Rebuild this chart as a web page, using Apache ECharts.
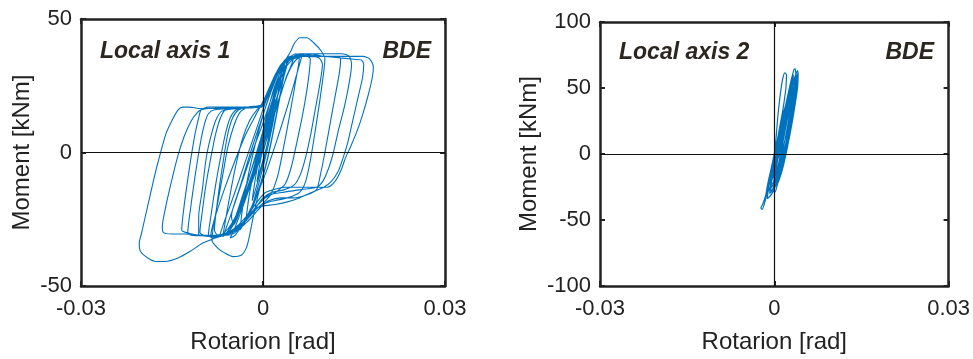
<!DOCTYPE html>
<html>
<head>
<meta charset="utf-8">
<script src="https://cdn.jsdelivr.net/npm/echarts@6/dist/echarts.min.js"></script>
<style>
  html, body { margin: 0; padding: 0; background: #fff; }
  #main { width: 973px; height: 359px; }
</style>
</head>
<body>
<div id="main"></div>
<script>
var dom = document.getElementById('main');
var chart = echarts.init(dom);

// traced hysteresis path, local axis 1: [rotation in mrad, moment in kNm]
var axis1Path = [
  [0,0],[0.6,5],[1.2,10],[0.7,3],[-0.4,-6],[-1.0,-11],[-0.5,-4],[0.5,7],[1.4,15],[2.0,20],[1.4,11],[0.2,-2],
  [-1.0,-12],[-1.8,-18],[-1.2,-9],[-0.2,3],[1.0,14],[2.2,23],[2.8,28],[2.2,18],[1.0,4],[-0.4,-9],[-1.8,-20],
  [-2.8,-25],[-2.2,-15],[-1.0,-2],[0.4,12],[1.8,24],[3.0,31],[3.6,34],[3.0,24],[1.6,7],[0.2,-7],[-1.4,-18],
  [-3.0,-26],[-3.8,-29],[-3.2,-18],[-2.0,-4],[-0.6,9],[1.0,21],[2.6,30],[3.8,34],
  [4.6,36],[5.4,37],[6.0,36],[5.4,27],[4.4,14],[3.4,2],[2.4,-9],[1.2,-16],[0,-19],[-1.0,-21],[-2.2,-24],
  [-3.4,-27],[-4.6,-30],[-5.8,-31],[-6.6,-31],[-6.0,-23],[-5.2,-13],[-4.4,-4],[-3.4,5],[-2.2,12],[-1.0,16],
  [0,18],[1.0,24],[2.0,29],[3.0,33],[4.2,35],
  [3.0,26],[1.4,14],[-0.4,0],[-2.4,-13],[-4.4,-24],[-6.0,-30],[-7.2,-31.5],[-6.4,-26],[-4.8,-16],[-3.0,-4],
  [-1.2,8],[0.6,20],[2.4,30],[3.8,35],
  [4.6,38],[5.2,41],[6.1,43],[7.2,43],[8.4,41],[9.6,38],[10.2,35],[10.0,30],[9.4,20],[8.6,8],[7.8,-3],
  [7.0,-11],[6.0,-15],[4.0,-17],[2.0,-18],[0.4,-19],[-1.0,-22],[-2.6,-26],[-4.4,-29],[-6.4,-31],[-8.2,-32],
  [-9.0,-31],[-8.6,-24],[-7.8,-12],[-7.0,-2],[-6.2,7],[-5.4,13],[-4.4,16],[-2.6,17],[-1.0,17],[0.2,19],
  [1.2,25],[2.2,30],[3.4,34],[4.6,36],
  [5.0,35.5],[3.8,28],[2.0,15],[0.2,2],[-1.8,-11],[-3.8,-22],[-5.4,-29],[-6.6,-31.5],[-5.4,-24],[-3.6,-12],
  [-1.8,0],[0,11],[1.8,23],[3.6,32],[4.8,35.5],
  [6.0,37],[8.0,37],[10.0,36],[12.0,36],[12.8,35],[12.6,30],[11.8,20],[11.0,10],[10.2,0],[9.4,-9],[8.8,-14],
  [7.0,-16],[5.0,-17],[3.0,-17],[1.0,-18],[-0.2,-20],[-1.8,-24],[-3.6,-28],[-5.4,-30],[-7.4,-31],[-9.6,-31],
  [-10.4,-30],[-10.0,-22],[-9.4,-12],[-8.6,-2],[-7.8,7],[-7.0,13],[-6.2,16],[-4.4,17],[-2.0,17],[-0.4,17],
  [0.4,20],[1.4,26],[2.6,31],[3.8,35],
  [4.0,34],[2.8,24],[1.2,12],[-0.8,-2],[-2.8,-15],[-4.6,-25],[-5.6,-30],[-4.8,-26],[-3.2,-15],[-1.4,-3],
  [0.4,10],[2.2,23],[3.8,32],[5.4,36],
  [5.0,36],[7.0,37],[9.0,36],[11.0,36],[13.0,36],[15.0,36],[16.5,36],[17.6,35],[18.2,32],[18.0,28],[17.4,22],
  [16.4,14],[15.5,8],[14.4,2],[13.6,-2],[12.8,-7],[11.8,-11],[10.6,-13],[8.4,-13],[6.0,-13],[3.6,-13],
  [1.6,-14],[0.4,-15],[-0.8,-18],[-2.4,-23],[-4.0,-27],[-5.8,-30],[-8.0,-31],[-10.4,-31],[-12.6,-30],
  [-13.4,-29],[-13.0,-20],[-12.4,-10],[-11.8,-1],[-11.2,7],[-10.6,13],[-10.2,16],[-9.0,17],[-6.0,17],
  [-3.0,17],[-0.6,17],[0.4,19],[1.4,25],[2.6,30],[3.8,34],
  [6.4,36],[5.4,28],[4.0,17],[2.2,4],[0.4,-8],[-1.6,-19],[-3.4,-27],[-4.6,-31],[-5.4,-32],[-4.6,-28],
  [-2.8,-17],[-1.0,-5],[0.8,8],[2.6,20],[4.2,30],[5.6,35],
  [8.0,37],[10.6,37],[13.0,37],[14.2,36],[14.6,33],[14.2,26],[13.4,17],[12.4,8],[11.6,0],[10.8,-6],
  [9.8,-11],[8.8,-13],[6.0,-14],[3.0,-15],[0.8,-16],[-0.6,-19],[-2.6,-25],[-4.6,-29],[-6.6,-31],[-8.4,-32.5],
  [-10.0,-34],[-12.0,-37],[-14.0,-39.5],[-16.2,-40.8],[-17.6,-40.8],[-19.0,-39.5],[-20.2,-37],[-20.4,-34],
  [-20.0,-30],[-19.0,-20],[-18.0,-10],[-17.0,-1],[-16.0,7],[-15.0,12],[-14.0,16],[-13.2,17],[-12.0,17],
  [-10.6,16.5],[-8.0,16.6],[-5.0,16.8],[-2.0,17],[0,17.5],[0.8,21],[1.8,27],[3.0,32],
  [3.4,33],[2.0,22],[0.4,9],[-1.4,-5],[-3.2,-17],[-5.0,-26],[-6.4,-30],[-7.8,-31.5],[-8.6,-31],[-8.0,-25],
  [-6.4,-14],[-4.6,-3],[-2.8,7],[-1.2,14],[0.2,20],[1.8,28],[3.2,33],
  [4.4,35],[6.0,36],[8.0,36.5],[10.0,36],[12.4,35.5],[14.6,35],[16.2,34.6],[16.6,33],[16.4,28],[15.6,20],
  [14.8,12],[14.0,4],[13.2,-2],[12.4,-7],[11.2,-11],[10.0,-13],[8.0,-15],[6.0,-17],[4.0,-18.5],[2.0,-19.5],
  [0,-20],[-1.2,-21],[-2.8,-25],[-4.6,-29],[-6.4,-31],[-8.4,-31.5],[-10.6,-31],[-12.8,-30.5],[-15.0,-30.5],
  [-16.4,-30],[-16.6,-28],[-16.0,-20],[-15.0,-10],[-14.0,-1],[-13.0,6],[-11.8,12],[-10.8,15],[-10.2,16],
  [-9.0,16.5],[-6.0,16.6],[-3.0,16.8],[-0.8,17],[0.2,18],[1.2,24],[2.4,30],[3.6,34],
  [4.2,36],[3.4,28],[2.4,16],[1.0,0],[-0.6,-14],[-1.6,-24],[-2.4,-33],[-2.8,-36],[-3.6,-38.5],[-4.9,-39],
  [-6.4,-37.5],[-7.6,-35.5],[-8.4,-33],[-8.2,-28],[-7.4,-18],[-6.6,-8],[-5.8,2],[-4.8,10],[-3.8,15],
  [-2.4,17],[-1.0,17.4],[0,18],[1.0,23],[2.0,28],[3.0,32],[4.0,35],
  [2.8,30],[1.6,20],[0,7],[-1.8,-8],[-3.4,-19],[-4.8,-27],[-5.2,-24],[-3.8,-13],[-2.2,-1],[-0.6,10],
  [1.2,22],[2.8,31],[4.2,35],
  [5.6,36],[7.6,36],[9.2,35.5],[9.8,33],[9.4,26],[8.6,16],[7.8,6],[7.0,-2],[6.2,-8],[5.2,-12],[3.4,-14],
  [1.4,-15],[0,-17],[-1.6,-22],[-3.4,-27],[-5.4,-30],[-7.6,-31],[-10.0,-31.2],[-11.8,-31],[-12.4,-30],
  [-12.0,-22],[-11.4,-12],[-10.8,-3],[-10.2,5],[-9.6,11],[-9.0,14.5],[-8.0,16],[-5.0,16.5],[-2.0,17],
  [0,17.5],[1.0,23],[2.0,28],[3.2,33],
  [4.0,35],[3.2,26],[2.0,12],[0.8,-2],[-0.4,-12],[-2.0,-22],[-3.8,-28],[-5.6,-30.5],[-7.4,-31],[-8.0,-29],
  [-7.6,-20],[-7.0,-10],[-6.4,-1],[-5.8,7],[-5.0,13],[-4.0,16],[-2.4,17],[-0.6,17],[0.4,20],[1.8,27],
  [3.0,32],[4.2,35],[5.0,36],[6.8,36.5],[7.8,35],[7.4,26],[6.6,15],[5.6,4],[4.6,-6],[3.6,-12],[2.0,-15],
  [0.4,-17],[-1.4,-21],[-3.2,-26],[-5.0,-29],[-7.0,-30.8],[-9.2,-31.2],[-10.6,-30.6],[-10.6,-24],
  [-10.0,-14],[-9.6,-6],[-9.2,0],[-8.6,6],[-7.8,12],[-6.8,15.5],[-4.0,16.5],[-1.4,16.8],[0,17.2],
  [1.2,24],[2.4,30],[3.6,34],[2.4,24],[0.8,11],[-1.0,-3],[-2.6,-15],[-4.0,-23],[-4.6,-26],[-3.6,-19],
  [-2.0,-7],[-0.4,5],[1.2,17],[2.6,27],[3.0,28],[1.6,12],[0.4,0]
];

// traced hysteresis path, local axis 2: [rotation in mrad, moment in kNm]
var axis2Path = [
  [0,0],[0.4,8],[0.9,18],[0.6,9],[0,-4],[-0.5,-12],[-0.2,-4],[0.4,8],[1.0,22],[1.5,34],[1.3,26],[0.8,12],
  [0.2,-3],[-0.5,-16],[-1.0,-24],[-0.6,-14],[0,0],[0.3,12],[0.6,28],[1.0,44],[1.4,56],[1.8,61.5],[2.1,60],
  [2.0,50],[1.7,40],[1.3,28],[0.8,14],[0.2,-2],[-0.4,-12],[-1.0,-24],[-1.6,-33],[-2.0,-38],[-2.3,-41],
  [-2.1,-42],[-1.6,-36],[-0.9,-22],[-0.2,-8],[0.6,8],[1.4,26],[2.2,42],[2.8,54],[3.2,61],[3.4,64],
  [3.6,64.5],[3.7,60],[3.5,50],[3.1,36],[2.6,20],[2.0,4],[1.3,-10],[0.6,-22],[0.1,-29],[-0.2,-28],
  [0,-18],[0.6,-2],[1.4,16],[2.2,34],[3.0,50],[3.6,59],[4.0,63],[4.1,60],[4.0,50],[3.6,38],[3.0,22],
  [2.3,6],[1.5,-10],[0.8,-20],[0.3,-24],[-0.3,-22],[-0.9,-27],[-1.5,-32],[-1.1,-22],[-0.4,-8],[0.4,8],
  [1.2,24],[2.0,38],[2.8,50],[3.4,56],[3.9,60],[4.0,54],[3.7,42],[3.2,28],[2.6,14],[1.9,0],[1.2,-12],
  [0.4,-22],[-0.4,-30],[-1.2,-34],[-1.0,-26],[-0.3,-12],[0.5,4],[1.3,20],[2.1,34],[2.8,44],[3.5,52],
  [3.9,56],[3.8,48],[3.3,34],[2.7,20],[2.0,6],[1.2,-8],[0.4,-20],[-0.2,-24],[0.2,-12],[1.0,6],[1.8,22],
  [2.6,38],[3.3,50],[3.9,54],[3.6,44],[3.0,30],[2.4,16],[1.6,2],[0.8,-10],[0.2,-16],[0.6,-4],[1.4,12],
  [2.2,28],[3.0,42],[3.6,50],[3.2,38],[2.6,24],[1.8,10],[1.0,-2],
  [1.8,16],[2.6,34],[3.3,48],[3.9,58],[4.1,62],[4.0,56],[3.6,44],[2.9,28],[2.2,12],[1.5,-4],[0.8,-16],
  [0.2,-24],[-0.4,-29],[-0.6,-26],[0,-12],[0.8,4],[1.5,20],[2.3,36],[3.0,48],[3.6,58],[3.8,60],[3.7,52],
  [3.2,40],[2.6,26],[2.2,14],[1.8,4],[1.1,-8],[0.4,-18],[-0.2,-26],[-0.8,-30],[-0.6,-22],[0,-8],[0.6,6],
  [1.3,20],[2.0,34],[2.7,46],[3.2,54],[3.5,58],[3.4,50],[2.9,38],[2.4,24],[1.8,10],[1.2,-2],[0.5,-14],
  [-0.1,-22],[-0.6,-26],[-0.3,-16],[0.3,-2],[1.0,14],[1.7,30],[2.4,44],[3.0,55],[3.3,60],[3.0,50],
  [2.5,36],[2.0,22],[1.4,8],[0.8,-6],[0.2,-16],[-0.2,-18],[0.4,-4],[1.1,12],[1.8,26],[2.4,38],[2.8,46],
  [2.6,36],[2.0,22],[1.4,8],[0.6,-4],[0.1,-8],[0.7,4],[1.4,18],[2.0,30],[2.6,42],[2.2,30],[1.6,16],
  [1.0,4],[0.4,-2]
];

var xTicks = [-0.03, 0, 0.03];
var y1Range = [-50, 50];
var y2Range = [-100, 100];

function toRad(path) {
  return path.map(function (p) { return [p[0] / 1000, p[1]]; });
}

var frame = { color: '#222', width: 2.5 };
var fontFamily = '"Liberation Sans", Arial, sans-serif';

function xAx(grid, pos, labels) {
  return {
    gridIndex: grid, type: 'value', position: pos,
    min: xTicks[0], max: xTicks[2], interval: xTicks[2],
    axisLine: { show: true, onZero: false, lineStyle: frame },
    axisTick: { show: true, inside: true, length: 5, lineStyle: { color: '#222', width: 2 } },
    axisLabel: { show: labels, fontSize: 22, color: '#222', margin: 12, fontFamily: fontFamily },
    splitLine: { show: false },
    name: labels ? 'Rotarion [rad]' : '', nameLocation: 'middle', nameGap: 44,
    nameTextStyle: { fontSize: 24, color: '#222', fontFamily: fontFamily }
  };
}
function yAx(grid, pos, range, labels, gap) {
  return {
    gridIndex: grid, type: 'value', position: pos,
    min: range[0], max: range[1], interval: 50,
    axisLine: { show: true, onZero: false, lineStyle: frame },
    axisTick: { show: true, inside: true, length: 5, lineStyle: { color: '#222', width: 2 } },
    axisLabel: { show: labels, fontSize: 22, color: '#222', margin: 9, fontFamily: fontFamily },
    splitLine: { show: false },
    name: labels ? 'Moment [kNm]' : '', nameLocation: 'middle', nameGap: gap,
    nameTextStyle: { fontSize: 24, color: '#222', fontFamily: fontFamily }
  };
}

var zeroLines = {
  silent: true, symbol: 'none', label: { show: false },
  lineStyle: { color: '#111', width: 1.2, type: 'solid' },
  data: [{ xAxis: 0 }, { yAxis: 0 }]
};

option = {
  animation: false,
  grid: [
    { left: 81, top: 19, width: 364, height: 268 },
    { left: 600, top: 22, width: 352, height: 267 }
  ],
  xAxis: [xAx(0, 'bottom', true), xAx(0, 'top', false), xAx(1, 'bottom', true), xAx(1, 'top', false)],
  yAxis: [yAx(0, 'left', y1Range, true, 47), yAx(0, 'right', y1Range, false, 0),
          yAx(1, 'left', y2Range, true, 59), yAx(1, 'right', y2Range, false, 0)],
  series: [
    {
      type: 'line', xAxisIndex: 0, yAxisIndex: 0, data: toRad(axis1Path),
      showSymbol: false, smooth: 0.25,
      lineStyle: { color: '#0072BD', width: 1.1 },
      markLine: zeroLines
    },
    {
      type: 'line', xAxisIndex: 2, yAxisIndex: 2, data: toRad(axis2Path),
      showSymbol: false, smooth: 0.25,
      lineStyle: { color: '#0072BD', width: 1.2 },
      markLine: zeroLines
    }
  ],
  graphic: [
    { type: 'text', x: 100, y: 52, style: { text: 'Local axis 1', font: 'italic bold 23px "Liberation Sans", Arial', fill: '#2b2620', verticalAlign: 'middle' } },
    { type: 'text', x: 431, y: 52, style: { text: 'BDE', font: 'italic bold 23px "Liberation Sans", Arial', fill: '#2b2620', align: 'right', verticalAlign: 'middle' } },
    { type: 'text', x: 619, y: 53, style: { text: 'Local axis 2', font: 'italic bold 23px "Liberation Sans", Arial', fill: '#2b2620', verticalAlign: 'middle' } },
    { type: 'text', x: 934, y: 53, style: { text: 'BDE', font: 'italic bold 23px "Liberation Sans", Arial', fill: '#2b2620', align: 'right', verticalAlign: 'middle' } }
  ]
};
chart.setOption(option);
</script>
</body>
</html>
